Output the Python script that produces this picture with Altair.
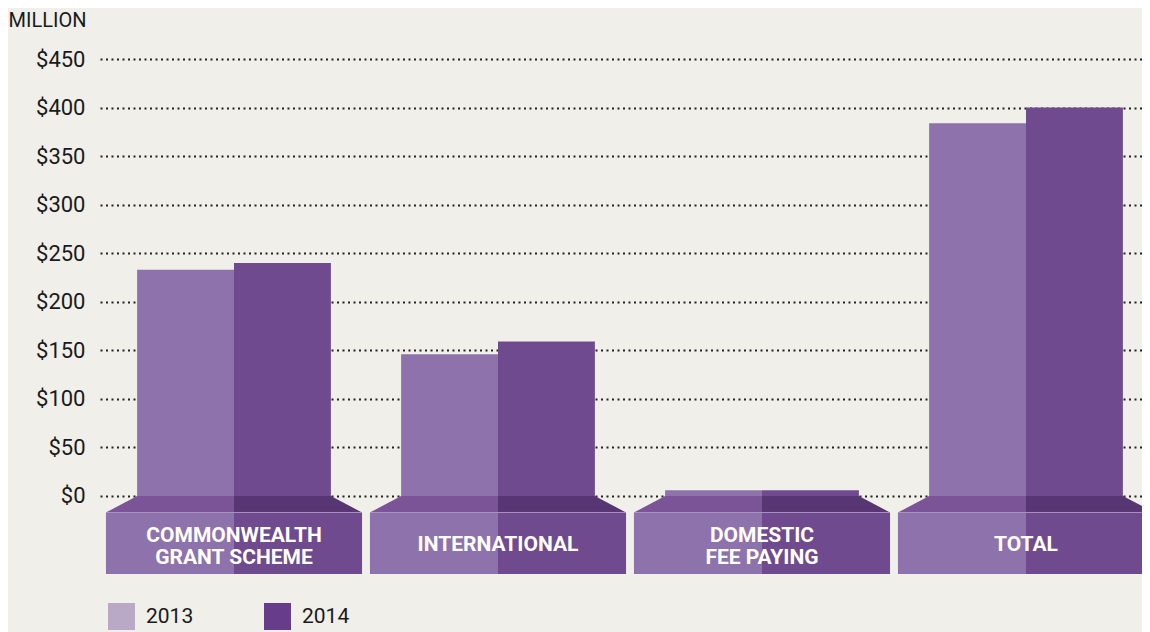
import altair as alt
import pandas as pd

# ---- data ----
categories = ["COMMONWEALTH\nGRANT SCHEME", "INTERNATIONAL", "DOMESTIC\nFEE PAYING", "TOTAL"]
years = ["2013", "2014"]
values_2013 = [233, 146, 6, 384]
values_2014 = [240, 159, 6, 400]
tick_values = [0, 50, 100, 150, 200, 250, 300, 350, 400, 450]

# ---- styling / layout ----
BAR_COLORS = {"2013": "#8e72ac", "2014": "#6f4a8e"}
TRAP_COLORS = {"2013": "#7b5498", "2014": "#573673"}
LEGEND_COLORS = ["#b9a9c6", "#673d8b"]
BG = "#f0efea"
FONT = "Roboto"
BAR_HALF = 0.367
PLINTH_HALF = 0.485
TRAP_TOP = 0
BOX_TOP = -17
BOX_BOTTOM = -80.3
LABEL_Y = -50.5
LINE_STEP = 9.3
X_DOMAIN = [-0.5076, 3.4394]
Y_DOMAIN = [-140.1, 502.6]

bar_rows, trap_rows, box_rows, label_rows, line_rows = [], [], [], [], []
for i, cat in enumerate(categories):
    for year, vals in (("2013", values_2013), ("2014", values_2014)):
        sign = -1 if year == "2013" else 1
        x0, x1 = sorted([i, i + sign * BAR_HALF])
        bar_rows.append({"cat": cat, "year": year, "x0": x0, "x1": x1,
                         "value": vals[i], "fill": BAR_COLORS[year]})
        p0, p1 = sorted([i, i + sign * PLINTH_HALF])
        box_rows.append({"cat": cat, "year": year, "x0": p0, "x1": p1,
                         "fill": BAR_COLORS[year]})
        part = f"{i}-{year}"
        pts = [(i + sign * PLINTH_HALF, BOX_TOP), (i + sign * BAR_HALF, TRAP_TOP), (i, TRAP_TOP)]
        for px, py in pts:
            trap_rows.append({"part": part, "x": px, "y": py, "y2": BOX_TOP,
                              "fill": TRAP_COLORS[year]})
    n_lines = cat.count("\n") + 1
    label_rows.append({"cat": cat, "x": i, "y": LABEL_Y + (n_lines - 1) * LINE_STEP})
    line_rows.append({"x0": i - PLINTH_HALF, "x1": i + PLINTH_HALF, "y": BOX_TOP})

bars_df = pd.DataFrame(bar_rows)
trap_df = pd.DataFrame(trap_rows)
box_df = pd.DataFrame(box_rows)
label_df = pd.DataFrame(label_rows)
line_df = pd.DataFrame(line_rows)
legend_df = pd.DataFrame({"year": years, "x": [-50, -50], "y": [-5000, -5000]})

xs = alt.Scale(domain=X_DOMAIN, nice=False, zero=False)
ys = alt.Scale(domain=Y_DOMAIN, nice=False, zero=False)

yaxis = alt.Axis(values=tick_values, format="$d", domain=False, ticks=False,
                 labelPadding=15, labelFontSize=22, labelColor="#1a1a1a", labelFont=FONT,
                 grid=True, gridDash=[2, 3.5], gridWidth=2, gridColor="#222222",
                 title="MILLION", titleAngle=0, titleX=-92, titleY=18, titleAlign="left",
                 titleBaseline="alphabetic", titleFontWeight="normal", titleFontSize=20,
                 titleFont=FONT, titleColor="#1a1a1a")

bars = alt.Chart(bars_df).mark_rect().encode(
    x=alt.X("x0:Q", scale=xs, axis=None),
    x2="x1:Q",
    y=alt.Y("value:Q", scale=ys, axis=yaxis),
    y2=alt.datum(0),
    color=alt.Color("fill:N", scale=None),
)

trap = alt.Chart(trap_df).mark_area(orient="vertical").encode(
    x=alt.X("x:Q", scale=xs),
    y=alt.Y("y:Q", scale=ys),
    y2="y2:Q",
    detail="part:N",
    color=alt.Color("fill:N", scale=None),
)

boxes = alt.Chart(box_df).mark_rect().encode(
    x=alt.X("x0:Q", scale=xs),
    x2="x1:Q",
    y=alt.datum(BOX_TOP),
    y2=alt.datum(BOX_BOTTOM),
    color=alt.Color("fill:N", scale=None),
)

top_line = alt.Chart(line_df).mark_rule(color="#a893c0", strokeWidth=1).encode(
    x=alt.X("x0:Q", scale=xs),
    x2="x1:Q",
    y=alt.Y("y:Q", scale=ys),
)

labels = alt.Chart(label_df).mark_text(
    color="white", font=FONT, fontWeight="bold", fontSize=21,
    lineBreak="\n", lineHeight=22, baseline="middle", align="center",
).encode(
    x=alt.X("x:Q", scale=xs),
    y=alt.Y("y:Q", scale=ys),
    text="cat:N",
)

legend_layer = alt.Chart(legend_df).mark_square(clip=True).encode(
    x=alt.X("x:Q", scale=xs),
    y=alt.Y("y:Q", scale=ys),
    color=alt.Color("year:N", scale=alt.Scale(domain=years, range=LEGEND_COLORS),
                    legend=alt.Legend(title=None, orient="none", legendX=8, legendY=595,
                                      direction="horizontal", symbolType="square",
                                      symbolSize=729, symbolStrokeWidth=0, symbolOpacity=1,
                                      labelFontSize=21, labelFont=FONT, labelColor="#1a1a1a",
                                      labelOffset=11, columnPadding=70, padding=0)),
)

chart = alt.layer(bars, trap, boxes, top_line, labels, legend_layer).resolve_scale(
    color="independent"
).properties(
    width=1042, height=624,
    autosize=alt.AutoSizeParams(type="none"),
    padding={"left": 92, "top": 0, "right": 0, "bottom": 0},
    background=BG,
).configure_view(stroke=None)

chart.save("out.html", embed_options={"renderer": "svg", "actions": False})
